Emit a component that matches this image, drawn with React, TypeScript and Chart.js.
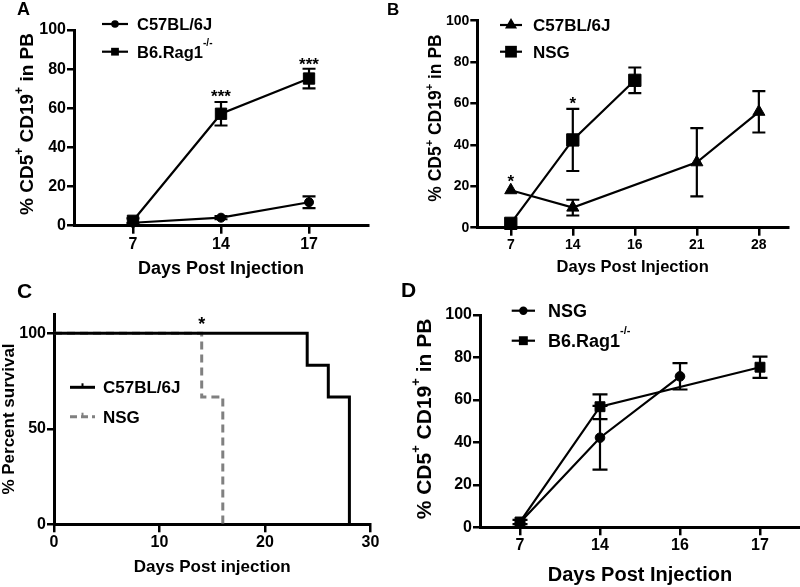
import React, { useEffect, useRef } from 'react';
import { Chart, registerables } from 'chart.js';

Chart.register(...registerables);

const FF = '"Liberation Sans", Arial, Helvetica, sans-serif';

// ---------------- Panel A data ----------------
const aDays = ['7', '14', '17'];
const aC57 = [1.5, 4.1, 12.0];
const aC57Err = [0, 0.8, 3.0];
const aRag = [2.5, 57.2, 75.2];
const aRagErr = [1.2, 6.0, 5.0];
const aStarY = [null, 68.5, 84.7];
const aStarText = ['', '***', '***'];

// ---------------- Panel B data ----------------
const bDays = ['7', '14', '16', '21', '28'];
const bC57 = [18.1, 9.7, null, 31.6, 56.0];
const bC57Err = [0, 3.8, null, 16.5, 10.0];
const bNSG = [2.1, 42.4, 71.2, null, null];
const bNSGErr = [0, 15.0, 6.2, null, null];
const bStarY = [24.6, 62.0, null, null, null];
const bStarText = ['*', '*', '', '', ''];

// ---------------- Panel C data ----------------
const cC57Days = [0, 24, 26, 28];
const cC57Surv = [100, 83.3, 66.7, 0];
const cNSGDays = [0, 14, 16];
const cNSGSurv = [100, 66.7, 0];
const cXTicks = [0, 10, 20, 30];
const cYTicks = [0, 50, 100];
const cStarX = [14];
const cStarY = [107.3];

// ---------------- Panel D data ----------------
const dDays = ['7', '14', '16', '17'];
const dNSG = [2.3, 42.2, 71.1, null];
const dNSGErr = [0, 15.0, 6.2, null];
const dRag = [2.5, 56.8, null, 75.4];
const dRagErr = [1.0, 5.8, null, 5.0];

type Seg = { t: string; sup?: boolean; raise?: number };

function pts(vals: (number | null)[], errs?: (number | null)[]) {
  const out: any[] = [];
  vals.forEach((v, i) => {
    if (v !== null && v !== undefined) out.push({ x: i, y: v, e: errs ? errs[i] || 0 : 0 });
  });
  return out;
}

function drawRich(ctx: CanvasRenderingContext2D, segs: Seg[], x: number, y: number, size: number, align: 'left' | 'center', rotate: boolean) {
  const nf = `bold ${size}px ${FF}`;
  const sf = `bold ${Math.round(size * 0.62)}px ${FF}`;
  ctx.save();
  ctx.translate(x, y);
  if (rotate) ctx.rotate(-Math.PI / 2);
  let w = 0;
  segs.forEach((s) => {
    ctx.font = s.sup ? sf : nf;
    w += ctx.measureText(s.t).width;
  });
  let cx = align === 'center' ? -w / 2 : 0;
  ctx.textBaseline = 'alphabetic';
  ctx.textAlign = 'left';
  ctx.fillStyle = '#000';
  const base = size * 0.36;
  segs.forEach((s) => {
    ctx.font = s.sup ? sf : nf;
    ctx.fillText(s.t, cx, s.sup ? base - size * (s.raise ?? 0.5) : base);
    cx += ctx.measureText(s.t).width;
  });
  ctx.restore();
}

function drawMarker(ctx: CanvasRenderingContext2D, style: string, x: number, y: number, r: number) {
  ctx.beginPath();
  if (style === 'circle') ctx.arc(x, y, r, 0, Math.PI * 2);
  else if (style === 'rect') {
    const s = r * Math.SQRT1_2;
    ctx.rect(x - s, y - s, 2 * s, 2 * s);
  } else if (style === 'triangle') {
    ctx.moveTo(x, y - r);
    ctx.lineTo(x + r * 0.866, y + r / 2);
    ctx.lineTo(x - r * 0.866, y + r / 2);
    ctx.closePath();
  }
  ctx.fill();
}

const errorBars = {
  id: 'errorBars',
  beforeDatasetsDraw(chart: any) {
    const ctx = chart.ctx;
    const xs = chart.scales.x;
    const ys = chart.scales.y;
    chart.data.datasets.forEach((ds: any) => {
      const cap = ds.capHalf ?? 7;
      ctx.save();
      ctx.strokeStyle = ds.borderColor;
      ctx.lineWidth = 2.2;
      ds.data.forEach((p: any) => {
        if (!p.e) return;
        const x = xs.getPixelForValue(p.x);
        const t = ys.getPixelForValue(p.y + p.e);
        const b = ys.getPixelForValue(p.y - p.e);
        ctx.beginPath();
        ctx.moveTo(x, t);
        ctx.lineTo(x, b);
        ctx.moveTo(x - cap, t);
        ctx.lineTo(x + cap, t);
        ctx.moveTo(x - cap, b);
        ctx.lineTo(x + cap, b);
        ctx.stroke();
      });
      ctx.restore();
    });
  },
};

type LegendItem = {
  y: number; x1: number; x2: number; tx: number; marker: string; r: number;
  text: Seg[]; size: number; color?: string; dash?: number[];
};

function decor(spec: {
  yTitle: { segs: Seg[]; x: number; y: number; size: number };
  legend: LegendItem[];
  stars: { x: number; y: number; text: string; size: number }[];
}) {
  return {
    id: 'decor',
    afterDraw(chart: any) {
      const ctx: CanvasRenderingContext2D = chart.ctx;
      const xs = chart.scales.x;
      const ys = chart.scales.y;
      drawRich(ctx, spec.yTitle.segs, spec.yTitle.x, spec.yTitle.y, spec.yTitle.size, 'center', true);
      spec.legend.forEach((it) => {
        const col = it.color || '#000';
        ctx.save();
        ctx.strokeStyle = col;
        ctx.fillStyle = col;
        ctx.lineWidth = it.marker === 'censor' ? 3 : 2.2;
        if (it.dash) ctx.setLineDash(it.dash);
        ctx.beginPath();
        ctx.moveTo(it.x1, it.y);
        ctx.lineTo(it.x2, it.y);
        ctx.stroke();
        ctx.setLineDash([]);
        const mx = (it.x1 + it.x2) / 2;
        if (it.marker === 'censor') {
          ctx.lineWidth = 2;
          ctx.beginPath();
          ctx.moveTo(mx, it.y);
          ctx.lineTo(mx, it.y - it.r);
          ctx.stroke();
        } else {
          drawMarker(ctx, it.marker, mx, it.y, it.r);
        }
        ctx.restore();
        drawRich(ctx, it.text, it.tx, it.y, it.size, 'left', false);
      });
      spec.stars.forEach((s) => {
        ctx.save();
        ctx.font = `bold ${s.size}px ${FF}`;
        ctx.fillStyle = '#000';
        ctx.textAlign = 'center';
        ctx.textBaseline = 'alphabetic';
        ctx.fillText(s.text, xs.getPixelForValue(s.x), ys.getPixelForValue(s.y) + s.size * 0.58);
        ctx.restore();
      });
    },
  };
}

function buildOptions(p: any) {
  const tickFont = { family: FF, size: p.tickSize, weight: 'bold' as const };
  return {
    responsive: false,
    animation: false as const,
    events: [] as any[],
    layout: { padding: { left: 0, top: p.T, right: p.W - p.R, bottom: 0 }, autoPadding: false },
    plugins: { legend: { display: false }, tooltip: { enabled: false } },
    scales: {
      x: {
        type: 'linear' as const,
        min: p.xMin,
        max: p.xMax,
        afterBuildTicks: (s: any) => { s.ticks = p.xTicks.map((v: number) => ({ value: v })); },
        afterFit: (s: any) => { s.height = p.H - p.B; },
        ticks: {
          callback: (_v: any, i: number) => p.xLabels[i],
          font: tickFont, color: '#000', padding: 1, maxRotation: 0, autoSkip: false,
        },
        grid: { display: true, drawOnChartArea: false, drawTicks: true, tickLength: 8, lineWidth: 2.5, color: '#000' },
        border: { display: true, width: 3, color: '#000' },
        title: {
          display: true, text: p.xTitle, color: '#000',
          font: { family: FF, size: p.xTitleSize, weight: 'bold' as const },
          padding: { top: 0, bottom: p.xTitlePad },
        },
      },
      y: {
        type: 'linear' as const,
        min: p.yMin,
        max: p.yMax,
        afterBuildTicks: (s: any) => { s.ticks = p.yTicks.map((v: number) => ({ value: v })); },
        afterFit: (s: any) => { s.width = p.L; },
        ticks: { font: tickFont, color: '#000', padding: 1, autoSkip: false },
        grid: { display: true, drawOnChartArea: false, drawTicks: true, tickLength: 7, lineWidth: 2.5, color: '#000' },
        border: { display: true, width: 3, color: '#000' },
      },
    },
  };
}

const cdTitle = (): Seg[] => [
  { t: '% CD5' }, { t: '+', sup: true, raise: 0.5 }, { t: ' CD19' }, { t: '+', sup: true, raise: 0.5 }, { t: ' in PB' },
];
const ragText = (): Seg[] => [{ t: 'B6.Rag1' }, { t: '-/-', sup: true, raise: 0.72 }];

function ds(label: string, data: any[], style: string, r: number, cap: number, extra: any = {}) {
  return {
    label, data,
    borderColor: '#000', backgroundColor: '#000', pointBackgroundColor: '#000', pointBorderColor: '#000',
    borderWidth: 2.2, pointStyle: style, pointRadius: r, pointBorderWidth: 1, clip: false, tension: 0,
    capHalf: cap, ...extra,
  };
}

const cfgA = () => ({
  type: 'line',
  data: {
    datasets: [
      ds('C57BL/6J', pts(aC57, aC57Err), 'circle', 4.5, 6.5),
      ds('B6.Rag1-/-', pts(aRag, aRagErr), 'rect', 8, 6.5),
    ],
  },
  options: buildOptions({
    W: 400, H: 290, L: 74, R: 368, T: 30, B: 225.7,
    xMin: -0.67, xMax: 2.67, xTicks: [0, 1, 2], xLabels: aDays,
    yMin: 0, yMax: 100, yTicks: [0, 20, 40, 60, 80, 100],
    tickSize: 16, xTitle: 'Days Post Injection', xTitleSize: 18, xTitlePad: 10,
  }),
  plugins: [errorBars, decor({
    yTitle: { segs: cdTitle(), x: 26, y: 124, size: 19 },
    legend: [
      { y: 24, x1: 102, x2: 128, tx: 137, marker: 'circle', r: 3.8, text: [{ t: 'C57BL/6J' }], size: 16.5 },
      { y: 51.7, x1: 102, x2: 128, tx: 137, marker: 'rect', r: 5.5, text: ragText(), size: 16.5 },
    ],
    stars: aStarText.map((t, i) => ({ x: i, y: aStarY[i] ?? 0, text: t, size: 17 })).filter((s) => s.text),
  })],
});

const cfgB = () => ({
  type: 'line',
  data: {
    datasets: [
      ds('C57BL/6J', pts(bC57, bC57Err), 'triangle', 7, 6.5),
      ds('NSG', pts(bNSG, bNSGErr), 'rect', 8.7, 6.5),
    ],
  },
  options: buildOptions({
    W: 400, H: 290, L: 77.3, R: 388, T: 20.7, B: 227.7,
    xMin: -0.54, xMax: 4.47, xTicks: [0, 1, 2, 3, 4], xLabels: bDays,
    yMin: 0, yMax: 100, yTicks: [0, 20, 40, 60, 80, 100],
    tickSize: 14, xTitle: 'Days Post Injection', xTitleSize: 16.5, xTitlePad: 13,
  }),
  plugins: [errorBars, decor({
    yTitle: { segs: cdTitle(), x: 35, y: 118, size: 17.5 },
    legend: [
      { y: 25, x1: 100, x2: 122, tx: 133, marker: 'triangle', r: 7, text: [{ t: 'C57BL/6J' }], size: 17 },
      { y: 51.7, x1: 100, x2: 122, tx: 133, marker: 'rect', r: 8.3, text: [{ t: 'NSG' }], size: 17 },
    ],
    stars: bStarText.map((t, i) => ({ x: i, y: bStarY[i] ?? 0, text: t, size: 17 })).filter((s) => s.text),
  })],
});

const cfgC = () => ({
  type: 'line',
  data: {
    datasets: [
      {
        label: 'C57BL/6J', data: cC57Days.map((d, i) => ({ x: d, y: cC57Surv[i] })),
        borderColor: '#000', borderWidth: 3, pointRadius: 0, stepped: true, clip: false,
      },
      {
        label: 'NSG', data: cNSGDays.map((d, i) => ({ x: d, y: cNSGSurv[i] })),
        borderColor: '#808080', borderWidth: 3, borderDash: [8, 5], pointRadius: 0, stepped: true, clip: false,
      },
    ],
  },
  options: buildOptions({
    W: 400, H: 297, L: 54, R: 370.5, T: 24.2, B: 234.3,
    xMin: 0, xMax: 30, xTicks: cXTicks, xLabels: cXTicks.map(String),
    yMin: 0, yMax: 110, yTicks: cYTicks,
    tickSize: 16, xTitle: 'Days Post injection', xTitleSize: 17, xTitlePad: 9,
  }),
  plugins: [decor({
    yTitle: { segs: [{ t: '% Percent survival' }], x: 8, y: 129, size: 17 },
    legend: [
      { y: 97.3, x1: 70, x2: 95, tx: 103, marker: 'censor', r: 4, text: [{ t: 'C57BL/6J' }], size: 17 },
      { y: 126.7, x1: 70, x2: 95, tx: 103, marker: 'censor', r: 4, text: [{ t: 'NSG' }], size: 17, color: '#808080', dash: [7, 4] },
    ],
    stars: cStarX.map((x, i) => ({ x, y: cStarY[i], text: '*', size: 18 })),
  })],
});

const cfgD = () => ({
  type: 'line',
  data: {
    datasets: [
      ds('NSG', pts(dNSG, dNSGErr), 'circle', 4.8, 7.5),
      ds('B6.Rag1-/-', pts(dRag, dRagErr), 'rect', 7, 7.5),
    ],
  },
  options: buildOptions({
    W: 400, H: 297, L: 80, R: 400, T: 25, B: 237.3,
    xMin: -0.5, xMax: 3.5, xTicks: [0, 1, 2, 3], xLabels: dDays,
    yMin: 0, yMax: 100, yTicks: [0, 20, 40, 60, 80, 100],
    tickSize: 16, xTitle: 'Days Post Injection', xTitleSize: 20, xTitlePad: 0,
  }),
  plugins: [errorBars, decor({
    yTitle: { segs: cdTitle(), x: 23, y: 129, size: 21 },
    legend: [
      { y: 20.7, x1: 111.7, x2: 135, tx: 148, marker: 'circle', r: 4.2, text: [{ t: 'NSG' }], size: 18 },
      { y: 50.7, x1: 111.7, x2: 135, tx: 148, marker: 'rect', r: 6.3, text: ragText(), size: 18 },
    ],
    stars: [],
  })],
});

function Panel({ left, top, width, height, make }: any) {
  const ref = useRef<HTMLCanvasElement>(null);
  useEffect(() => {
    const chart = new Chart(ref.current as HTMLCanvasElement, make());
    return () => chart.destroy();
  }, []);
  return (
    <canvas
      ref={ref}
      width={width}
      height={height}
      style={{ position: 'absolute', left, top, width, height }}
    />
  );
}

const letterStyle = (left: number, top: number, size: number): React.CSSProperties => ({
  position: 'absolute', left, top, fontFamily: FF, fontWeight: 'bold', fontSize: size, lineHeight: 1, color: '#000',
});

export default function App() {
  return (
    <div style={{ position: 'absolute', left: 0, top: 0, width: 800, height: 587, background: '#fff', overflow: 'hidden' }}>
      <Panel left={0} top={0} width={400} height={290} make={cfgA} />
      <Panel left={400} top={0} width={400} height={290} make={cfgB} />
      <Panel left={0} top={290} width={400} height={297} make={cfgC} />
      <Panel left={400} top={290} width={400} height={297} make={cfgD} />
      <div style={letterStyle(17, 0, 18)}>A</div>
      <div style={letterStyle(387, 0.5, 17)}>B</div>
      <div style={letterStyle(17, 280, 21)}>C</div>
      <div style={letterStyle(401, 279, 21)}>D</div>
    </div>
  );
}
